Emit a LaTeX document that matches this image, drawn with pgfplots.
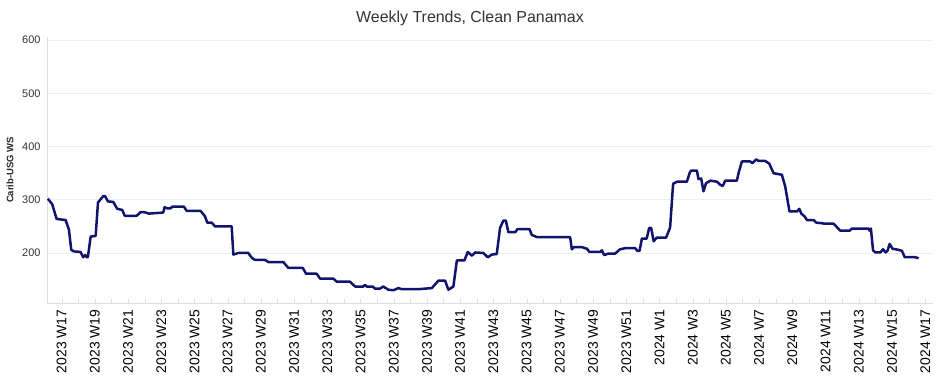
\documentclass[border=0pt]{standalone}
\usepackage{fontspec}
\setmainfont{Liberation Sans}
\usepackage{pgfplots}
\pgfplotsset{compat=1.18}
\definecolor{navy}{RGB}{16,20,110}
\definecolor{gridc}{RGB}{238,238,238}
\definecolor{axc}{RGB}{222,222,222}
\begin{document}
\begin{tikzpicture}
\begin{axis}[
  at={(0bp,0bp)}, anchor=south west,
  scale only axis, width=886bp, height=266bp,
  xmin=-0.88, xmax=52.47, ymin=106, ymax=606,
  axis x line*=bottom, axis y line*=left,
  axis line style={-, draw=axc},
  ytick={200,300,400,500,600},
  ymajorgrids, major grid style={draw=gridc, line width=0.8bp},
  ytick style={draw=none},
  xtick={0,2,...,52},
  minor xtick={1,3,...,51},
  xtick style={draw=axc},
  tick align=inside,
  major tick length=4bp, minor tick length=4bp,
  xticklabels={2023 W17,2023 W19,2023 W21,2023 W23,2023 W25,2023 W27,2023 W29,2023 W31,2023 W33,2023 W35,2023 W37,2023 W39,2023 W41,2023 W43,2023 W45,2023 W47,2023 W49,2023 W51,2024 W1,2024 W3,2024 W5,2024 W7,2024 W9,2024 W11,2024 W13,2024 W15,2024 W17},
  xticklabel style={rotate=90, anchor=east, font=\fontsize{14}{16}\selectfont, text=black, xshift=-3bp},
  yticklabel style={font=\fontsize{11}{13}\selectfont, text=black!80, xshift=-3bp},
  /pgf/number format/assume math mode=true,
  ylabel={Carib-USG WS},
  ylabel style={at={(axis description cs:-0.0418,0.5)}, anchor=center, font=\bfseries\fontsize{9.5}{11}\selectfont, text=black!85},
  clip=false,
]
\addplot[navy, line width=2.5bp, line join=round] table {
x y
-0.83 302
-0.57 292
-0.30 264
0.24 262
0.44 244
0.58 206
0.74 203
1.14 202
1.30 192
1.42 196
1.51 192
1.58 192
1.75 231
2.05 232
2.19 295
2.51 307
2.61 307
2.79 297
3.11 296
3.35 283
3.65 281
3.80 270
4.52 270
4.76 277
4.96 277
5.26 274
5.66 275
6.12 276
6.20 286
6.36 284
6.57 284
6.66 287
7.37 287
7.53 279
8.37 279
8.53 273
8.63 269
8.77 257
9.04 257
9.24 250
10.24 250
10.34 197
10.64 200
11.24 200
11.45 191
11.64 187
12.25 187
12.45 183
13.35 183
13.65 172
14.52 172
14.72 161
15.36 161
15.56 152
16.36 152
16.57 146
17.37 146
17.67 137
18.17 137
18.27 140
18.37 137
18.73 137
18.87 133
19.17 133
19.37 137
19.67 131
19.98 130
20.28 134
20.48 132
21.48 132
22.29 134
22.69 148
23.09 148
23.29 131
23.59 137
23.80 186
24.25 186
24.46 202
24.70 195
24.90 201
25.40 200
25.66 192
25.90 197
26.20 198
26.40 247
26.60 261
26.75 261
26.90 239
27.31 239
27.45 245
28.17 245
28.31 234
28.61 230
30.62 230
30.72 207
30.86 211
31.33 211
31.63 208
31.78 202
32.43 202
32.53 205
32.67 196
32.93 199
33.33 199
33.63 207
33.93 209
34.54 209
34.67 204
34.80 204
34.94 227
35.23 227
35.38 247
35.50 247
35.65 222
35.84 229
36.40 229
36.64 248
36.82 330
37.05 334
37.65 334
37.82 351
37.91 355
38.25 355
38.35 339
38.51 340
38.65 316
38.80 331
39.06 336
39.46 334
39.66 328
39.81 326
39.96 336
40.66 336
40.76 350
40.96 372
41.46 372
41.60 369
41.83 376
41.96 373
42.37 373
42.61 368
42.87 350
43.37 347
43.57 325
43.83 278
44.28 278
44.42 283
44.54 274
44.73 269
44.88 262
45.28 262
45.44 257
45.78 256
45.92 255
46.48 255
46.64 250
46.88 242
47.45 242
47.59 246
48.59 246
48.65 242
48.73 246
48.86 205
49.00 201
49.30 201
49.46 207
49.62 201
49.74 205
49.86 217
50.03 208
50.39 206
50.60 204
50.77 192
51.41 192
51.60 190
};
\end{axis}
\node[font=\fontsize{16}{18}\selectfont, text=black!80] at (423bp,285bp) {Weekly Trends, Clean Panamax};
\path[use as bounding box] (-47bp,-89bp) rectangle (893bp,303bp);
\end{tikzpicture}
\end{document}
